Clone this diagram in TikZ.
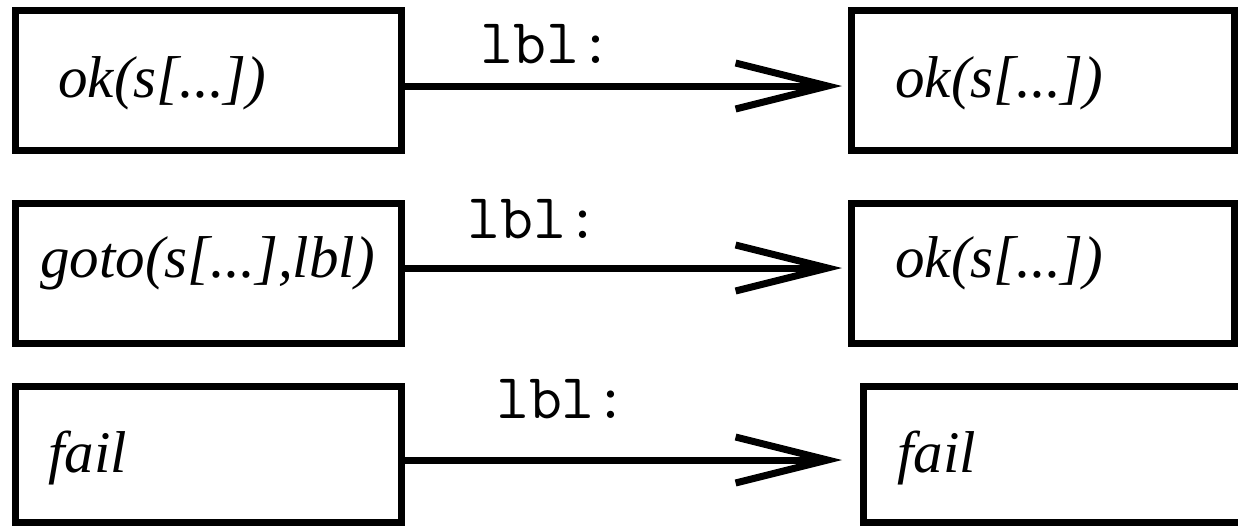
\documentclass[tikz,border=0pt]{standalone}
\usepackage{fontspec}
\setmainfont{Liberation Serif}
\usepackage{tikz}
\usetikzlibrary{positioning, arrows.meta, calc}
\tikzstyle{arrow} = [line width=3.5pt,-{Straight Barb[length=46pt,width=23pt,line width=3.5pt]}]
\tikzstyle{term} = [rectangle, draw=black, line width=3.5pt, inner sep=0pt, minimum width=193pt, minimum height=70pt]
\tikzstyle{termtext} = [inner sep=0pt, anchor=base west, font=\fontsize{29.5}{31}\selectfont\itshape]
\tikzstyle{lbl} = [inner sep=0pt, anchor=base, font=\fontsize{32}{34}\selectfont\ttfamily]

\begin{document}
\begin{tikzpicture}[x=0.5pt, y=-0.5pt]
        \useasboundingbox (0,0) rectangle (1238,526);

        \node (okleft) [term] at (208.5,80.5) {};
        \node (okright) [term, minimum width=191.5pt] at (1043,80.5) {};
        \node (gotoleft) [term] at (208.5,273.5) {};
        \node (gotoright) [term, minimum width=191.5pt] at (1043,273.5) {};
        \node (failleft) [term, minimum height=68pt] at (208.5,454.5) {};
        \node (failright) [term, minimum width=195pt, minimum height=68pt] at (1058.5,454.5) {};

        \node (oklefttext) [termtext] at (58,97) {ok(s[...])};
        \node (okrighttext) [termtext] at (895,97) {ok(s[...])};
        \node (gotolefttext) [termtext] at (40,277) {goto(s[...],lbl)};
        \node (gotorighttext) [termtext] at (895,277) {ok(s[...])};
        \node (faillefttext) [termtext] at (48,472) {fail};
        \node (failrighttext) [termtext] at (897,472) {fail};

        \draw [arrow, shorten >=3pt] ([yshift=-2.75pt]okleft.east) -- node[lbl, pos=0.32, yshift=11.5pt]{lbl:} ([yshift=-2.75pt]okright.west);
        \draw [arrow, shorten >=3pt] ([yshift=2.75pt]gotoleft.east) -- node[lbl, pos=0.29, yshift=15pt]{lbl:} ([yshift=2.75pt]gotoright.west);
        \draw [arrow, shorten >=9pt] ([yshift=-2.75pt]failleft.east) -- node[lbl, pos=0.345, yshift=21pt]{lbl:} ([yshift=-2.75pt]failright.west);

        \end{tikzpicture}
\end{document}
